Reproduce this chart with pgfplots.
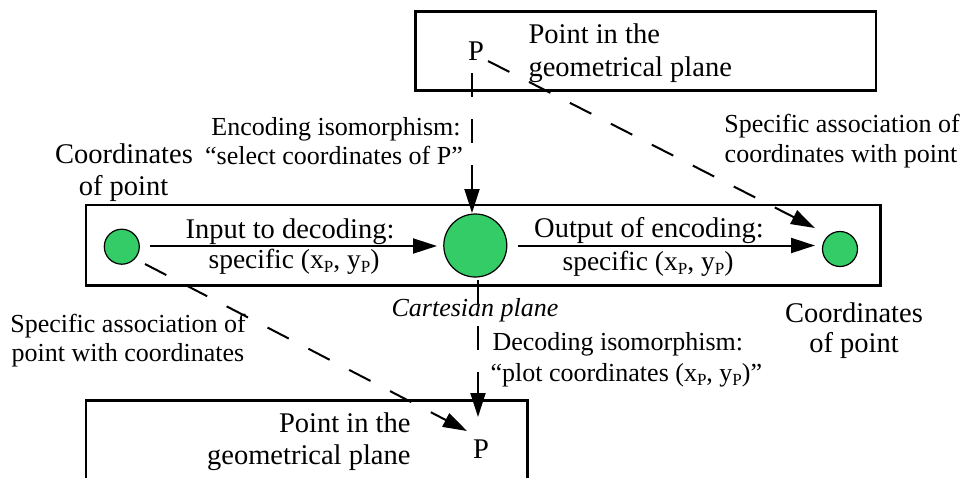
\documentclass[border=0pt]{standalone}
\usepackage{fontspec}
\setmainfont{Liberation Serif}
\usepackage{pgfplots}
\pgfplotsset{compat=1.18}
\usetikzlibrary{arrows.meta}
\definecolor{cgreen}{RGB}{51,204,102}
\newcommand{\fbig}{\fontsize{28.5}{32}\selectfont}
\newcommand{\fsml}{\fontsize{26}{30}\selectfont}
\newcommand{\fmid}{\fontsize{27.5}{30}\selectfont}
\newcommand{\sub}[1]{\raisebox{-4.5pt}{\fontsize{17}{17}\selectfont #1}}
\begin{document}
\begin{tikzpicture}
\begin{axis}[width=962pt,height=477pt,scale only axis,hide axis,
  xmin=0,xmax=962,ymin=0,ymax=477,y dir=reverse,clip=true]
% boxes
\addplot[black,line width=2.5pt,line cap=rect,line join=miter] coordinates {(415.7,11.7) (876,11.7) (876,90.7) (415.7,90.7) (415.7,11.7)};
\addplot[black,line width=2.5pt,line cap=rect,line join=miter] coordinates {(86,205) (880.7,205) (880.7,285.7) (86,285.7) (86,205)};
\addplot[black,line width=2.5pt,line join=miter] coordinates {(86,495) (86,400.7) (527.7,400.7) (527.7,495)};
% solid arrows
\addplot[black,line width=2pt,-{Triangle[length=24pt,width=15pt]}] coordinates {(150,246) (437,246)};
\addplot[black,line width=2pt,-{Triangle[length=24pt,width=15pt]}] coordinates {(518,245.5) (815,245.5)};
% dashed arrows
\addplot[black,line width=2pt,dash pattern=on 24pt off 22pt,-{Triangle[length=24pt,width=15pt]}] coordinates {(472,73) (472,213)};
\addplot[black,line width=2pt,dash pattern=on 24pt off 22pt,-{Triangle[length=24pt,width=15pt]}] coordinates {(478,280) (478,417)};
\addplot[black,line width=2pt,dash pattern=on 24pt off 22pt,-{Triangle[length=24pt,width=15pt]}] coordinates {(488,61) (815,228)};
\addplot[black,line width=2pt,dash pattern=on 24pt off 22pt,-{Triangle[length=24pt,width=15pt]}] coordinates {(145,264) (467,431)};
% circles
\addplot[only marks,mark=*,mark size=17.5pt,mark options={fill=cgreen,draw=black,line width=1.2pt}] coordinates {(121.8,246.7) (840,249)};
\addplot[only marks,mark=*,mark size=31.5pt,mark options={fill=cgreen,draw=black,line width=1.2pt}] coordinates {(475.3,245.5)};
% texts
\node[anchor=base west,font=\fbig] at (axis cs:525,43) {Point in the};
\node[anchor=base west,font=\fbig] at (axis cs:525,76) {geometrical plane};
\node[anchor=base,font=\fbig] at (axis cs:476,60) {P};
\node[anchor=base,font=\fsml] at (axis cs:336,135) {Encoding isomorphism:};
\node[anchor=base,font=\fsml] at (axis cs:334,164) {“select coordinates of P”};
\node[anchor=base,font=\fbig] at (axis cs:124,163) {Coordinates};
\node[anchor=base,font=\fbig] at (axis cs:123.5,195) {of point};
\node[anchor=base,font=\fsml] at (axis cs:842,132) {Specific association of};
\node[anchor=base,font=\fsml] at (axis cs:841,162) {coordinates with point};
\node[anchor=base,font=\fbig] at (axis cs:290,238) {Input to decoding:};
\node[anchor=base,font=\fmid] at (axis cs:294,268) {specific (x\sub{P}, y\sub{P})};
\node[anchor=base,font=\fbig] at (axis cs:649,237) {Output of encoding:};
\node[anchor=base,font=\fmid] at (axis cs:648,270) {specific (x\sub{P}, y\sub{P})};
\node[anchor=base,font=\fsml\itshape] at (axis cs:475,316) {Cartesian plane};
\node[anchor=base,font=\fbig] at (axis cs:854,322) {Coordinates};
\node[anchor=base,font=\fbig] at (axis cs:854,352) {of point};
\node[anchor=base,font=\fsml] at (axis cs:128,332) {Specific association of};
\node[anchor=base,font=\fsml] at (axis cs:128,361) {point with coordinates};
\node[anchor=base west,font=\fsml] at (axis cs:489,350) {Decoding isomorphism:};
\node[anchor=base west,font=\fsml] at (axis cs:487,381) {“plot coordinates (x\sub{P}, y\sub{P})”};
\node[anchor=base east,font=\fbig] at (axis cs:414,432) {Point in the};
\node[anchor=base east,font=\fbig] at (axis cs:414,464) {geometrical plane};
\node[anchor=base,font=\fbig] at (axis cs:481,458) {P};
\end{axis}
\pgfresetboundingbox
\path[use as bounding box] (current axis.south west) rectangle (current axis.north east);
\end{tikzpicture}
\end{document}
